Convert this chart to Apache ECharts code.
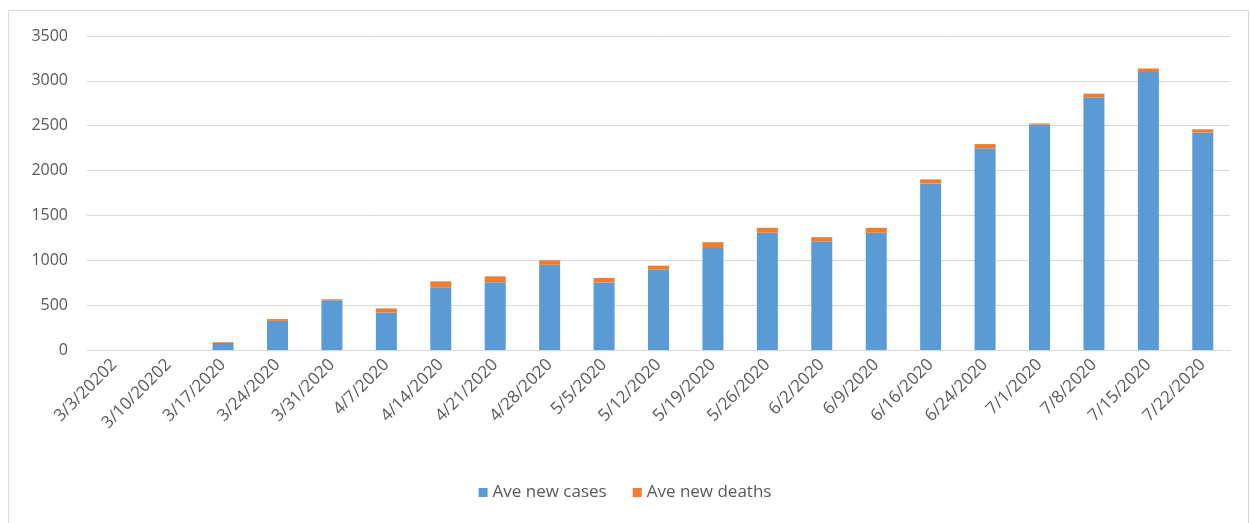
<!DOCTYPE html>
<html>
<head>
<meta charset="utf-8">
<script src="https://cdn.jsdelivr.net/npm/echarts@6/dist/echarts.min.js"></script>
<style>
  html, body { margin: 0; padding: 0; background: #fff; }
  #main { width: 1250px; height: 523px; }
</style>
</head>
<body>
<div id="main"></div>
<script>
var weeks = ['3/3/20202', '3/10/20202', '3/17/2020', '3/24/2020', '3/31/2020', '4/7/2020',
  '4/14/2020', '4/21/2020', '4/28/2020', '5/5/2020', '5/12/2020', '5/19/2020', '5/26/2020',
  '6/2/2020', '6/9/2020', '6/16/2020', '6/24/2020', '7/1/2020', '7/8/2020', '7/15/2020', '7/22/2020'];
var newCases = [0, 0, 80, 325, 555, 418, 700, 756, 950, 753, 895, 1137, 1307,
  1213, 1307, 1857, 2250, 2513, 2818, 3098, 2425];
var newDeaths = [0, 0, 8, 20, 10, 45, 65, 65, 50, 50, 45, 65, 55,
  45, 55, 45, 45, 12, 40, 40, 35];

var chart = echarts.init(document.getElementById('main'));
var textColor = '#595959';
var font = 'Open Sans';

var option = {
  animation: false,
  textStyle: { fontFamily: font },
  graphic: [{
    type: 'rect',
    shape: { x: 8.5, y: 10.5, width: 1240, height: 530 },
    style: { fill: 'none', stroke: '#d9d9d9', lineWidth: 1 },
    silent: true
  }],
  grid: { left: 87, right: 20, top: 36, bottom: 173 },
  legend: {
    bottom: 17,
    left: 'center',
    itemWidth: 9,
    itemHeight: 9,
    itemGap: 26,
    icon: 'rect',
    textStyle: { color: textColor, fontSize: 17, fontFamily: font },
    data: ['Ave new cases', 'Ave new deaths']
  },
  xAxis: {
    type: 'category',
    data: weeks,
    axisLine: { lineStyle: { color: '#d9d9d9' } },
    axisTick: { show: false },
    axisLabel: { rotate: 45, color: textColor, fontSize: 17, margin: 12, interval: 0 }
  },
  yAxis: {
    type: 'value',
    min: 0,
    max: 3500,
    interval: 500,
    axisLine: { show: false },
    axisTick: { show: false },
    axisLabel: {
      color: textColor,
      fontSize: 16,
      margin: 19,
      formatter: function (v) { return String(v); }
    },
    splitLine: { lineStyle: { color: '#d9d9d9' } }
  },
  series: [{
    name: 'Ave new cases',
    type: 'bar',
    stack: 'total',
    barWidth: 21,
    itemStyle: { color: '#5b9bd5' },
    data: newCases
  }, {
    name: 'Ave new deaths',
    type: 'bar',
    stack: 'total',
    barWidth: 21,
    itemStyle: { color: '#ed7d31' },
    data: newDeaths
  }]
};

chart.setOption(option);
</script>
</body>
</html>
